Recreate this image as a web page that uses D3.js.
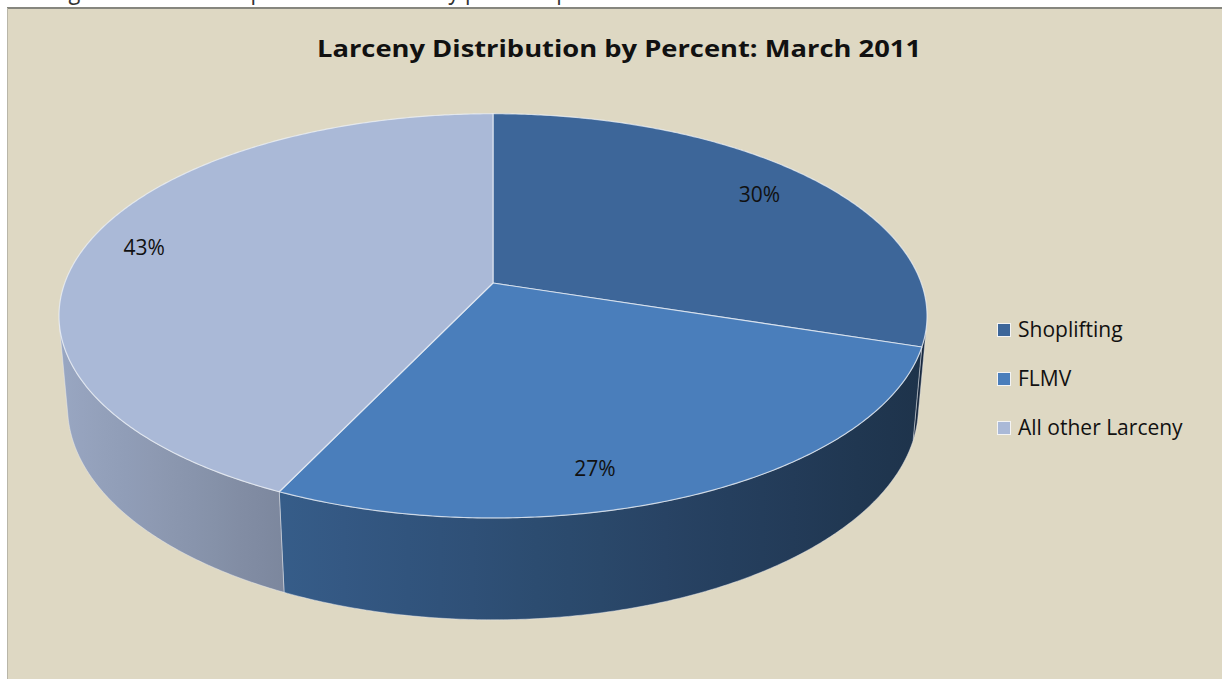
<!DOCTYPE html>
<html>
<head>
<meta charset="utf-8">
<script src="https://cdn.jsdelivr.net/npm/d3@7/dist/d3.min.js"></script>
<style>
  html, body { margin: 0; padding: 0; background: #ffffff; }
  svg { display: block; }
</style>
</head>
<body>
<svg id="chart" width="1222" height="679"></svg>
<script>
// ---- data ----
const title = "Larceny Distribution by Percent: March 2011";
const categories = ["Shoplifting", "FLMV", "All other Larceny"];
const values = [30, 27, 43];
const valueLabels = ["30%", "27%", "43%"];
const colors = ["#3D6699", "#4A7EBB", "#AAB9D7"];
const headerText = "the original data were reported to the county police department";

// ---- layout / projection (style) ----
const W = 1222, H = 679;
const svg = d3.select("#chart");
const defs = svg.append("defs");

// page strip and frame
svg.append("rect").attr("x", 0).attr("y", 0).attr("width", W).attr("height", H).attr("fill", "#ffffff");
svg.append("text").attr("x", 2).attr("y", -1)
  .attr("font-family", "Open Sans, sans-serif").attr("font-size", 26).attr("fill", "#333")
  .attr("textLength", 650).attr("lengthAdjust", "spacingAndGlyphs")
  .text(headerText);
svg.append("rect").attr("x", 7).attr("y", 7).attr("width", W - 7).attr("height", H - 7).attr("fill", "#DED8C3");
svg.append("line").attr("x1", 7).attr("x2", W).attr("y1", 8).attr("y2", 8).attr("stroke", "#86867e").attr("stroke-width", 2);
svg.append("line").attr("x1", 7.5).attr("x2", 7.5).attr("y1", 8).attr("y2", H).attr("stroke", "#b9b6a8").attr("stroke-width", 1);

// title
svg.append("text").attr("x", 619).attr("y", 57).attr("text-anchor", "middle")
  .attr("font-family", "Open Sans, sans-serif").attr("font-weight", "bold").attr("font-size", 24)
  .attr("fill", "#111").attr("textLength", 604).attr("lengthAdjust", "spacingAndGlyphs")
  .text(title);

// perspective projection of a unit-radius pie
const cx = 493, cy = 283;
const alpha = 27 * Math.PI / 180;
const cA = Math.cos(alpha), sA = Math.sin(alpha);
const Dist = 5.484, K = 2377, Kx = 2377 * 0.988, depthH = 0.238;

function proj(theta, r, h) {
  const x = r * Math.sin(theta), y = -r * Math.cos(theta);
  const toward = y * cA + h * sA;
  const up = -y * sA + h * cA;
  const d = Dist - toward;
  return [cx + Kx * x / d, cy - K * up / d];
}

const visMin = Math.acos(-1 / (Dist * cA));
const visMax = 2 * Math.PI - visMin;

const pie = d3.pie().sort(null).value(d => d)(values);
const step = Math.PI / 360;

function arcPts(a0, a1, h) {
  const pts = [];
  const n = Math.max(2, Math.ceil(Math.abs(a1 - a0) / step));
  for (let i = 0; i <= n; i++) pts.push(proj(a0 + (a1 - a0) * i / n, 1, h));
  return pts;
}

const shade = d3.scaleLinear().domain([60, 285, 927]).range([0.9, 0.73, 0.40]).clamp(true);
function darken(col, f) {
  const c = d3.rgb(col);
  return d3.rgb(c.r * f, c.g * f, c.b * f).formatHex();
}

const line = d3.line().curve(d3.curveLinearClosed);

// sides
const gSides = svg.append("g");
pie.forEach((p, i) => {
  const a0 = Math.max(p.startAngle, visMin), a1 = Math.min(p.endAngle, visMax);
  if (a0 >= a1) return;
  const top = arcPts(a0, a1, 0);
  const bot = arcPts(a1, a0, -depthH);
  const pts = top.concat(bot);
  const xs = pts.map(q => q[0]);
  const x0 = d3.min(xs), x1 = d3.max(xs);
  const gid = "side" + i;
  const grad = defs.append("linearGradient").attr("id", gid)
    .attr("gradientUnits", "userSpaceOnUse").attr("x1", x0).attr("x2", x1).attr("y1", 0).attr("y2", 0);
  d3.range(0, 1.0001, 0.1).forEach(t => {
    grad.append("stop").attr("offset", t).attr("stop-color", darken(colors[i], shade(x0 + (x1 - x0) * t)));
  });
  gSides.append("path").attr("d", line(pts)).attr("fill", `url(#${gid})`)
    .attr("stroke", "rgba(235,238,245,0.45)").attr("stroke-width", 1);
});

// top faces
const gTop = svg.append("g");
pie.forEach((p, i) => {
  const pts = [proj(0, 0, 0)].concat(arcPts(p.startAngle, p.endAngle, 0));
  gTop.append("path").attr("d", line(pts)).attr("fill", colors[i])
    .attr("stroke", "rgba(240,243,250,0.7)").attr("stroke-width", 1.2).attr("stroke-linejoin", "round");
});

// data labels
const labelShift = [0, 0.16, 0];
const labelR = [0.83, 0.84, 0.86];
pie.forEach((p, i) => {
  const m = (p.startAngle + p.endAngle) / 2 + labelShift[i];
  const [lx, ly] = proj(m, labelR[i], 0);
  svg.append("text").attr("x", lx).attr("y", ly + 8).attr("text-anchor", "middle")
    .attr("font-family", "Open Sans, sans-serif").attr("font-size", 21).attr("fill", "#111")
    .text(valueLabels[i]);
});

// legend
const legY = d3.scalePoint().domain(categories).range([337, 435]);
const gLeg = svg.append("g");
categories.forEach((c, i) => {
  const by = legY(c);
  gLeg.append("rect").attr("x", 997.5).attr("y", by - 13.5).attr("width", 13).attr("height", 13)
    .attr("fill", colors[i]).attr("stroke", "#f4f4f4").attr("stroke-width", 1);
  gLeg.append("text").attr("x", 1018).attr("y", by)
    .attr("font-family", "Open Sans, sans-serif").attr("font-size", 21).attr("fill", "#111")
    .text(c);
});
</script>
</body>
</html>
